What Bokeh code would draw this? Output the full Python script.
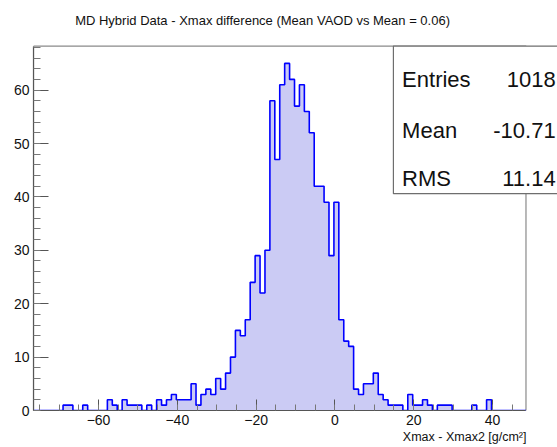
import numpy as np
from bokeh.plotting import figure
from bokeh.models import Label, BoxAnnotation, SingleIntervalTicker, Range1d, Title
from bokeh.embed import file_html
from bokeh.resources import INLINE

# ---- data -------------------------------------------------------------
X_MIN = -76.5
X_MAX = 48.5
BIN_WIDTH = 1.25
Y_MAX = 68.25
# the drawing area runs to the window's right and top edges so the title and
# the stats box (which overhang the histogram frame) are not clipped
VIEW_X_MAX = 56.5
VIEW_Y_MAX = 76.78

counts = [0, 0, 0, 0, 0, 0,
          1, 1, 0, 0, 1, 0, 0, 0, 0, 2,
          1, 0, 2, 1, 1, 1, 0, 1, 0, 2,
          1, 2, 3, 2, 2, 2, 5, 1, 3, 4,
          3, 6, 4, 7, 10, 15, 14, 17, 24, 29,
          22, 30, 58, 47, 61, 65, 62, 57, 61, 56,
          52, 42, 42, 39, 29,
          39, 17, 13, 12, 4, 3, 5, 5, 7, 3,
          2, 1, 1, 1, 0, 3, 1, 1, 2, 1,
          0, 1, 1, 1, 0, 0, 0, 0, 1, 0,
          0, 2, 0, 0, 0, 0, 0, 0, 0]

title_text = "MD Hybrid Data - Xmax difference (Mean VAOD vs Mean = 0.06)"
x_title = "Xmax - Xmax2 [g/cm\u00b2]"
stat_names = ["Entries", "Mean", "RMS"]
stat_values = ["1018", "-10.71", "11.14"]

# ---- derived ---------------------------------------------------------
edges = [X_MIN + BIN_WIDTH * i for i in range(len(counts) + 1)]
step_y = counts + [counts[-1]]

FONT = "Liberation Sans"
TXT = "#111111"

p = figure(width=557, height=447, title=None,
           x_range=Range1d(X_MIN, VIEW_X_MAX), y_range=Range1d(0, VIEW_Y_MAX),
           output_backend="svg", toolbar_location=None,
           min_border_left=33, min_border_right=0,
           min_border_top=0, min_border_bottom=37)
p.background_fill_color = "white"
p.border_fill_color = "white"
p.xgrid.visible = False
p.ygrid.visible = False
p.outline_line_color = None

# histogram frame (drawn beneath the histogram)
p.add_layout(BoxAnnotation(left=X_MIN, right=X_MAX, bottom=0, top=Y_MAX,
                           fill_alpha=0, line_color="#8a8a8a", line_width=1.2,
                           line_alpha=1.0, level="underlay"))

# histogram fill + outline
p.varea_step(x=edges, y1=[0] * len(edges), y2=step_y, step_mode="after",
             fill_color="#cbcbf4")
p.step(x=edges, y=step_y, mode="after", line_color="#0000ff", line_width=1.6)

# axes
for ax in (p.xaxis[0], p.yaxis[0]):
    ax.axis_line_color = "#555555"
    ax.axis_line_width = 1.2
    ax.major_tick_line_color = "#555555"
    ax.minor_tick_line_color = "#777777"
    ax.major_tick_out = 0
    ax.minor_tick_out = 0
    ax.major_label_text_font = FONT
    ax.major_label_text_font_size = "14px"
    ax.major_label_text_color = TXT

p.xaxis.bounds = (X_MIN, X_MAX)
p.yaxis.bounds = (0, Y_MAX)
p.xaxis.ticker = SingleIntervalTicker(interval=20, num_minor_ticks=4)
p.yaxis.ticker = SingleIntervalTicker(interval=10, num_minor_ticks=5)
p.xaxis.major_tick_in = 11
p.xaxis.minor_tick_in = 6
p.yaxis.major_tick_in = 15
p.yaxis.minor_tick_in = 7
p.xaxis.major_label_standoff = 4
p.yaxis.major_label_standoff = 4

# title
p.add_layout(Label(x=-18.36, y=Y_MAX, y_offset=25.5, text=title_text,
                   text_align="center", text_baseline="alphabetic",
                   text_font=FONT, text_font_size="13px", text_color=TXT))

# x-axis title (right aligned at end of axis)
p.add_layout(Title(text=x_title, align="right", offset=31, standoff=0,
                   text_font=FONT, text_font_size="12.5px",
                   text_font_style="normal", text_color=TXT), "below")

# stats box
p.add_layout(BoxAnnotation(left=14.85, right=80, top=Y_MAX, bottom=40.6,
                           fill_color="white", fill_alpha=1.0,
                           line_color="#6e6e6e", line_width=1.2, line_alpha=1.0))
rows_y = [61.9, 52.4, 43.4]
for name, val, yy in zip(stat_names, stat_values, rows_y):
    p.add_layout(Label(x=17.06, y=yy, text=name, text_align="left",
                       text_baseline="alphabetic", text_font=FONT,
                       text_font_size="22px", text_color=TXT))
    p.add_layout(Label(x=56.03, y=yy, text=val, text_align="right",
                       text_baseline="alphabetic", text_font=FONT,
                       text_font_size="22px", text_color=TXT))

open("out.html", "w").write(file_html(p, INLINE))
